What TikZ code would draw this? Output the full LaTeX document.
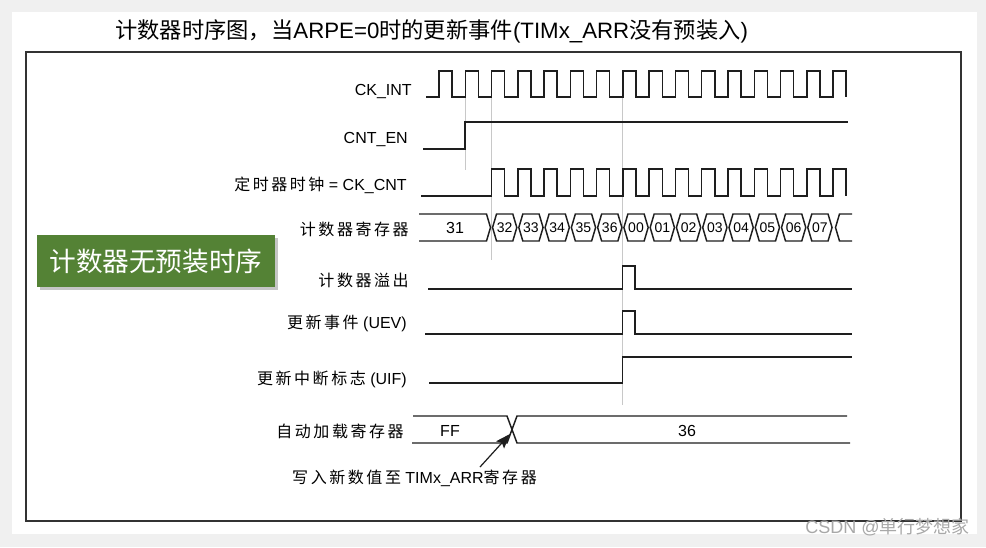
\documentclass[tikz,border=0pt]{standalone}
\usepackage{fontspec}
\setmainfont{Liberation Sans}
\newfontfamily\cjk{Noto Sans CJK SC}
\newfontfamily\cjkl[LetterSpace=16]{Noto Sans CJK SC}
\usetikzlibrary{arrows.meta}
\definecolor{bgray}{HTML}{F0F0F0}
\definecolor{framec}{HTML}{333333}
\definecolor{sig}{HTML}{1E1E1E}
\definecolor{guide}{HTML}{C8C8C8}
\definecolor{boxgreen}{HTML}{548235}
\definecolor{wm}{HTML}{A8A8A8}
\begin{document}
\begin{tikzpicture}[x=0.75pt,y=-0.75pt,
  lab/.style={anchor=east,inner sep=0pt,font=\fontsize{12}{12}\selectfont},
  wave/.style={draw=sig,line width=1.1pt,line join=miter},
  guideline/.style={draw=guide,line width=0.75pt},
  cell/.style={inner sep=0pt,font=\fontsize{10.5}{10.5}\selectfont},
  val/.style={inner sep=0pt,font=\fontsize{12}{12}\selectfont}]
\useasboundingbox (0,0) rectangle (986,547);
\fill[bgray] (0,0) rectangle (986,547);
\fill[white] (12,12) rectangle (977,534);
\draw[framec,line width=1.5pt] (26,52) rectangle (961,521);

% title
\node[anchor=west,inner sep=0pt,font=\fontsize{16.7}{16.7}\selectfont] (title) at (115,31)
  {{\cjk 计数器时序图，当}ARPE=0{\cjk 时的更新事件}(TIMx\_ARR{\cjk 没有预装入})};

% green box
\fill[gray,opacity=0.45] (40,238) rectangle (278,290);
\node[fill=boxgreen,minimum width=238*0.75pt,minimum height=52*0.75pt,inner sep=0pt,
  text=white,font=\fontsize{20}{20}\cjk] (tag) at (156,261) {计数器无预装时序};

% guide lines
\draw[guideline] (465,97) -- (465,170);
\draw[guideline] (491.5,97) -- (491.5,260);
\draw[guideline] (622.5,97) -- (622.5,405);

% labels
\node[lab] (lckint) at (412,91) {CK\_INT};
\node[lab] (lcnten) at (408,139) {CNT\_EN};
\node[lab] (lckcnt) at (407,185) {{\cjkl 定时器时钟} = CK\_CNT};
\node[lab] (lcnt) at (409,229) {\cjkl 计数器寄存器};
\node[lab] (lovf) at (409,280) {\cjkl 计数器溢出};
\node[lab] (luev) at (407,323) {{\cjkl 更新事件} (UEV)};
\node[lab] (luif) at (407,379) {{\cjkl 更新中断标志} (UIF)};
\node[lab] (larr) at (404,431) {\cjkl 自动加载寄存器};

% CK_INT
\draw[wave] (426,97) \foreach \k in {0,...,15}{ -- ({439+26.27*\k},97) -- ({439+26.27*\k},71) -- ({452.13+26.27*\k},71) -- ({452.13+26.27*\k},97)};
% CNT_EN
\draw[wave] (423,149) -- (465,149) -- (465,122) -- (848,122);
% CK_CNT
\draw[wave] (421,196) \foreach \k in {2,...,15}{ -- ({439+26.27*\k},196) -- ({439+26.27*\k},169) -- ({452.13+26.27*\k},169) -- ({452.13+26.27*\k},196)};

% counter register
\draw[wave] (419,214) -- (486.5,214) -- (490.5,227.5) -- (486.5,241) -- (419,241);
\node[val] (v31) at (455,228) {31};
\foreach \k/\v in {2/32,3/33,4/34,5/35,6/36,7/00,8/01,9/02,10/03,11/04,12/05,13/06,14/07}{
  \pgfmathsetmacro\a{439+26.27*\k+1}
  \pgfmathsetmacro\b{439+26.27*(\k+1)-1}
  \draw[wave] (\a,227.5) -- (\a+4,214) -- (\b-4,214) -- (\b,227.5) -- (\b-4,241) -- (\a+4,241) -- cycle;
  \node[cell] (c\k) at ({(\a+\b)/2},228) {\v};
}
\draw[wave] (852,214) -- (839.5,214) -- (835.5,227.5) -- (839.5,241) -- (852,241);

% overflow
\draw[wave] (428,289) -- (622.5,289) -- (622.5,266) -- (635,266) -- (635,289) -- (852,289);
% UEV
\draw[wave] (425,334) -- (622.5,334) -- (622.5,311) -- (635,311) -- (635,334) -- (852,334);
% UIF
\draw[wave] (429,383) -- (622.5,383) -- (622.5,357) -- (852,357);

% auto-reload register
\draw[wave] (413,416) -- (507,416) -- (517,443) -- (850,443);
\draw[wave] (412,443) -- (507,443) -- (517,416) -- (847,416);
\node[val] (vff) at (450,431) {FF};
\node[val] (v36) at (687,431) {36};

% annotation
\node[inner sep=0pt,font=\fontsize{12}{12}\selectfont] (note) at (414.5,478)
  {{\cjkl 写入新数值至} TIMx\_ARR{\cjkl 寄存器}};
\coordinate (tail) at (480,467);
\coordinate (tip) at (510,434);
\draw[sig,line width=0.9pt,-{Stealth[length=11pt,width=8pt,inset=2pt]}] (tail) -- (tip);

% watermark
\node[anchor=east,inner sep=0pt,text=wm,font=\fontsize{13.5}{13.5}\selectfont] (wmk) at (970,527)
  {CSDN @{\cjk 单行梦想家}};
\end{tikzpicture}
\end{document}
